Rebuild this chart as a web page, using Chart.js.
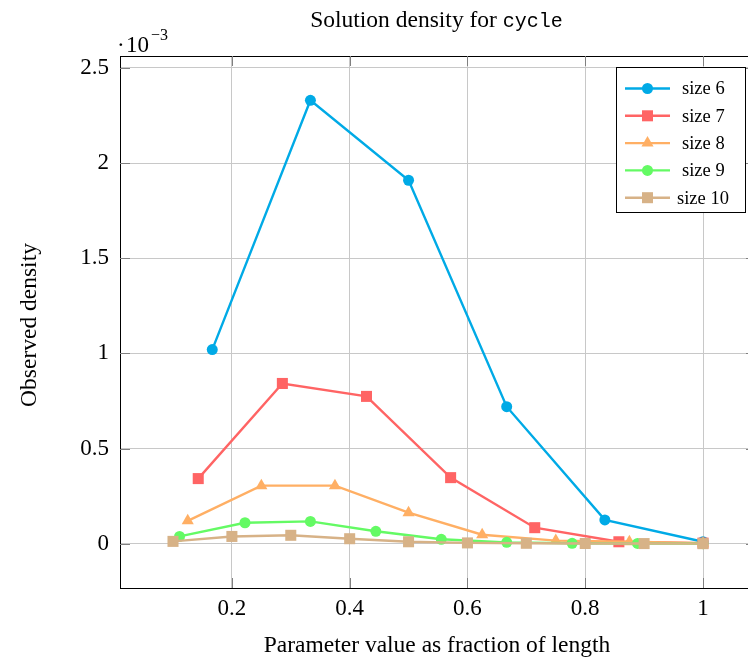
<!DOCTYPE html>
<html><head><meta charset="utf-8">
<script src="https://cdn.jsdelivr.net/npm/chart.js"></script>
<style>
html,body{margin:0;padding:0;background:#fff;overflow:hidden;}
#wrap{width:760px;height:658px;position:relative;overflow:hidden;}
</style></head>
<body><div id="wrap"><canvas id="c" width="760" height="658"></canvas></div>
<script>
// values in units of 10^-3
const x6 = [1/6, 2/6, 3/6, 4/6, 5/6, 1];
const y6 = [1.02, 2.33, 1.91, 0.72, 0.125, 0.01];
const x7 = [1/7, 2/7, 3/7, 4/7, 5/7, 6/7, 1];
const y7 = [0.342, 0.842, 0.774, 0.347, 0.084, 0.01, 0.003];
const x8 = [1/8, 2/8, 3/8, 4/8, 5/8, 6/8, 7/8, 1];
const y8 = [0.12, 0.305, 0.305, 0.163, 0.047, 0.016, 0.01, 0.002];
const x9 = [1/9, 2/9, 3/9, 4/9, 5/9, 6/9, 7/9, 8/9, 1];
const y9 = [0.038, 0.11, 0.117, 0.065, 0.023, 0.007, 0.002, 0.001, 0.0];
const x10 = [0.1, 0.2, 0.3, 0.4, 0.5, 0.6, 0.7, 0.8, 0.9, 1.0];
const y10 = [0.012, 0.038, 0.044, 0.026, 0.01, 0.004, 0.002, 0.001, 0.0005, 0.0];
const seriesNames = ['size 6', 'size 7', 'size 8', 'size 9', 'size 10'];
const xTicks = [0.2, 0.4, 0.6, 0.8, 1];
const xTickLabels = ['0.2', '0.4', '0.6', '0.8', '1'];
const yTicks = [0, 0.5, 1, 1.5, 2, 2.5];
const yTickLabels = ['0', '0.5', '1', '1.5', '2', '2.5'];

const colors = ['rgb(0,170,230)', 'rgb(255,100,100)', 'rgb(255,175,100)', 'rgb(100,250,100)', 'rgb(215,178,135)'];
const styles = ['circle', 'rect', 'triangle', 'circle', 'rect'];
const radii = [5.5, 7.8, 7, 5.5, 7.8];
const xs = [x6, x7, x8, x9, x10];
const ys = [y6, y7, y8, y9, y10];

const SERIF = '"Liberation Serif", "DejaVu Serif", serif';
const MONO = '"Liberation Mono", "DejaVu Sans Mono", monospace';

const datasets = seriesNames.map((n, i) => ({
  label: n,
  data: xs[i].map((x, j) => ({x: x, y: ys[i][j]})),
  borderColor: colors[i],
  backgroundColor: colors[i],
  pointBackgroundColor: colors[i],
  pointBorderColor: colors[i],
  pointBorderWidth: 0,
  pointStyle: styles[i],
  pointRadius: radii[i],
  pointHoverRadius: radii[i],
  borderWidth: 2.4,
  tension: 0,
  clip: false,
  order: 5 - i
}));

function drawMarker(ctx, style, r, x, y, color) {
  ctx.save();
  ctx.fillStyle = color;
  ctx.beginPath();
  if (style === 'circle') {
    ctx.arc(x, y, r, 0, Math.PI * 2);
  } else if (style === 'rect') {
    const s = r * Math.SQRT1_2;
    ctx.rect(x - s, y - s, 2 * s, 2 * s);
  } else if (style === 'triangle') {
    ctx.moveTo(x, y - r);
    ctx.lineTo(x + r * Math.sin(Math.PI / 3), y + r * 0.5);
    ctx.lineTo(x - r * Math.sin(Math.PI / 3), y + r * 0.5);
    ctx.closePath();
  }
  ctx.fill();
  ctx.restore();
}

const deco = {
  id: 'deco',
  afterDraw(chart) {
    const ctx = chart.ctx;
    const a = chart.chartArea;
    const sx = chart.scales.x, sy = chart.scales.y;
    ctx.save();
    // frame
    ctx.strokeStyle = '#000';
    ctx.lineWidth = 1;
    ctx.strokeRect(Math.round(a.left) + 0.5, Math.round(a.top) + 0.5, Math.round(a.right - a.left), Math.round(a.bottom - a.top));
    // inward tick marks
    const TL = 10;
    ctx.strokeStyle = '#808080';
    ctx.beginPath();
    xTicks.forEach(t => {
      const px = Math.round(sx.getPixelForValue(t)) + 0.5;
      ctx.moveTo(px, a.bottom); ctx.lineTo(px, a.bottom - TL);
      ctx.moveTo(px, a.top); ctx.lineTo(px, a.top + TL);
    });
    yTicks.forEach(t => {
      const py = Math.round(sy.getPixelForValue(t)) + 0.5;
      ctx.moveTo(a.left, py); ctx.lineTo(a.left + TL, py);
      ctx.moveTo(a.right, py); ctx.lineTo(a.right - TL, py);
    });
    ctx.stroke();

    // title
    ctx.fillStyle = '#000';
    ctx.textBaseline = 'alphabetic';
    ctx.textAlign = 'left';
    const t1 = 'Solution density for ';
    const t2 = 'cycle';
    ctx.font = '23.5px ' + SERIF;
    const w1 = ctx.measureText(t1).width;
    ctx.font = '20px ' + MONO;
    const w2 = ctx.measureText(t2).width;
    const start = 436.5 - (w1 + w2) / 2;
    ctx.font = '23.5px ' + SERIF;
    ctx.fillText(t1, start, 27);
    ctx.font = '20px ' + MONO;
    ctx.fillText(t2, start + w1, 27);

    // multiplier
    ctx.font = '23px ' + SERIF;
    ctx.fillText('·', 117, 51.5);
    ctx.fillText('10', 126, 51.5);
    ctx.font = '16px ' + SERIF;
    ctx.fillText('−3', 151, 40);

    // axis labels
    ctx.font = '23.5px ' + SERIF;
    ctx.textAlign = 'center';
    ctx.fillText('Parameter value as fraction of length', 437, 652);
    ctx.save();
    ctx.translate(36, 325);
    ctx.rotate(-Math.PI / 2);
    ctx.fillText('Observed density', 0, 0);
    ctx.restore();

    // legend
    const lx = 616, ly = 67, lw = 129, lh = 145;
    ctx.fillStyle = '#fff';
    ctx.fillRect(lx, ly, lw, lh);
    ctx.strokeStyle = '#000';
    ctx.lineWidth = 1;
    ctx.strokeRect(lx + 0.5, ly + 0.5, lw, lh);
    ctx.font = '18.5px ' + SERIF;
    ctx.textAlign = 'left';
    ctx.textBaseline = 'middle';
    seriesNames.forEach((n, i) => {
      const yy = 88.5 + i * 27.3;
      ctx.strokeStyle = colors[i];
      ctx.lineWidth = 2.4;
      ctx.beginPath();
      ctx.moveTo(625, yy); ctx.lineTo(670, yy);
      ctx.stroke();
      drawMarker(ctx, styles[i], radii[i], 647.5, yy, colors[i]);
      ctx.fillStyle = '#000';
      ctx.fillText(n, i === 4 ? 677 : 682, yy + 1);
    });
    ctx.restore();
  }
};

new Chart(document.getElementById('c'), {
  type: 'line',
  data: { datasets: datasets },
  options: {
    responsive: false,
    animation: false,
    events: [],
    layout: { autoPadding: false, padding: { left: 0, top: 56, right: 4, bottom: 0 } },
    plugins: { legend: { display: false }, title: { display: false }, tooltip: { enabled: false } },
    scales: {
      x: {
        type: 'linear',
        min: 0.01, max: 1.09,
        afterBuildTicks: s => { s.ticks = xTicks.map(v => ({value: v})); },
        afterFit: s => { s.height = 70; },
        ticks: {
          color: '#000',
          font: { family: SERIF, size: 23 },
          padding: 7,
          maxRotation: 0,
          callback: (v) => xTickLabels[xTicks.indexOf(v)] ?? ''
        },
        grid: { color: 'rgb(200,200,200)', lineWidth: 1, drawTicks: false },
        border: { display: false }
      },
      y: {
        type: 'linear',
        min: -0.233, max: 2.563,
        afterBuildTicks: s => { s.ticks = yTicks.map(v => ({value: v})); },
        afterFit: s => { s.width = 120; },
        ticks: {
          color: '#000',
          font: { family: SERIF, size: 23 },
          padding: 11,
          callback: (v) => yTickLabels[yTicks.indexOf(v)] ?? ''
        },
        grid: { color: 'rgb(200,200,200)', lineWidth: 1, drawTicks: false },
        border: { display: false }
      }
    }
  },
  plugins: [deco]
});
</script>
</body></html>
